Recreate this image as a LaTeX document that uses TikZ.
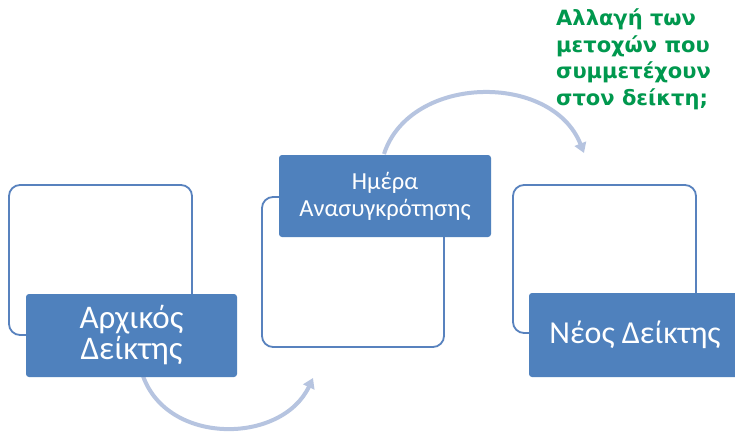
\documentclass[tikz,border=0pt]{standalone}
\usepackage{fontspec}
\usepackage{xcolor}
\usetikzlibrary{arrows.meta, positioning}
\newfontfamily\boxfont{Carlito}
\newfontfamily\notefont{DejaVu Sans}
\definecolor{frameblue}{RGB}{88,130,190}
\definecolor{fillblue}{RGB}{79,129,189}
\definecolor{arcblue}{RGB}{182,196,224}
\definecolor{notegreen}{RGB}{0,152,78}
\tikzset{
    frame/.style={draw=frameblue, line width=1.8pt, rounded corners=11pt, fill=white, inner sep=0pt},
    stage/.style={fill=fillblue, rounded corners=3pt, text=white, align=center, inner sep=0pt, font=\boxfont},
    bend_arrow/.style={draw=arcblue, line width=4pt, -{Triangle[length=10pt, width=12pt]}},
    note/.style={text=notegreen, align=left, anchor=north west, inner sep=0pt, font=\notefont\bfseries\fontsize{21}{26.5}\selectfont}
}

\begin{document}
\begin{tikzpicture}[x=1pt, y=-1pt]
    \clip (0,0) rectangle (735,431);
    \fill[white] (0,0) rectangle (735,431);
    % Background frames
    \node[frame, minimum width=183pt, minimum height=150pt] (frameA) at (100.5,260) {};
    \node[frame, minimum width=182pt, minimum height=150pt] (frameB) at (353,272) {};
    \node[frame, minimum width=183pt, minimum height=148pt] (frameC) at (604.5,259) {};
    % Arrow ends
    \coordinate (arcA) at (143,376);
    \coordinate (arcB) at (313,378);
    \coordinate (arcC) at (384,154);
    \coordinate (arcD) at (584,153);
    % Curved arrows
    \draw[bend_arrow] (arcA) .. controls (168,446) and (282,444) .. (arcB);
    \draw[bend_arrow] (arcC) .. controls (410,74) and (552,72) .. (arcD);
    % Stages
    \node[stage, minimum width=211pt, minimum height=83pt, font=\boxfont\fontsize{33}{31}\selectfont] (start) at (131.5,335.5) {Αρχικός\\Δείκτης};
    \node[stage, minimum width=212pt, minimum height=82pt, font=\boxfont\fontsize{24.5}{27}\selectfont] (rebuild) at (385,196) {Ημέρα\\Ανασυγκρότησης};
    \node[stage, minimum width=212pt, minimum height=84pt, font=\boxfont\fontsize{32}{32}\selectfont] (final) at (635,335) {Νέος Δείκτης};
    % Question
    \node[note] (question) at (556,9) {Αλλαγή των\\μετοχών που\\συμμετέχουν\\στον δείκτη;};
\end{tikzpicture}
\end{document}
